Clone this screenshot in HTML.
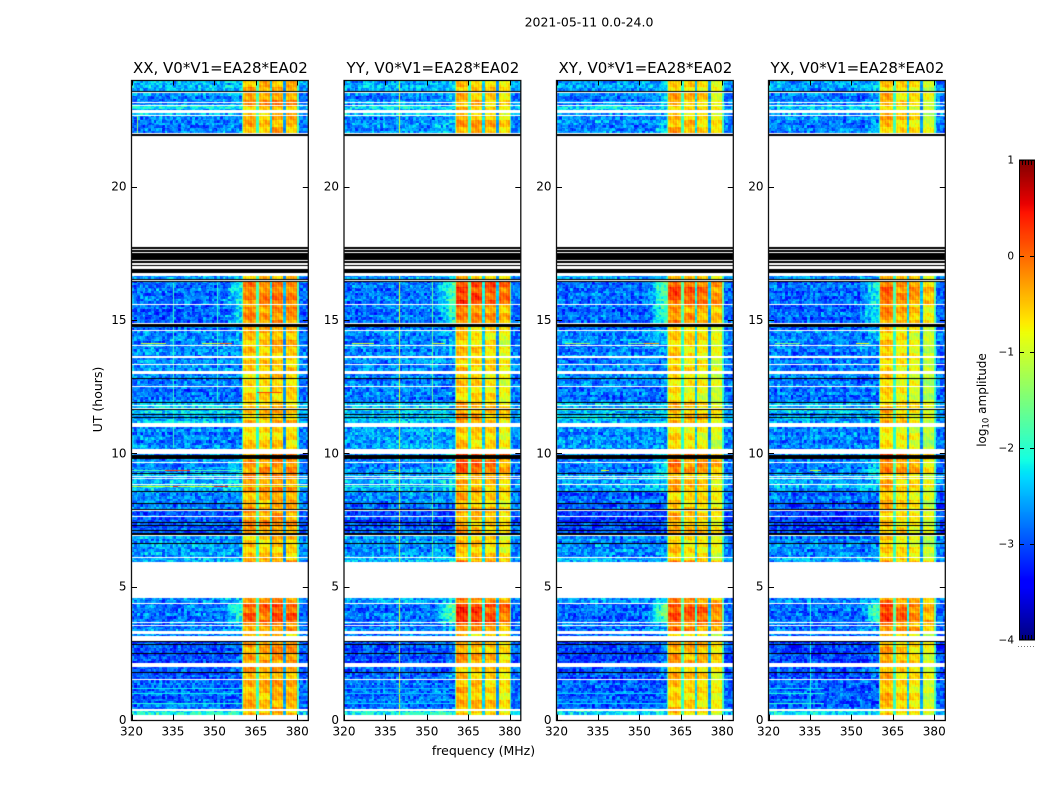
<!DOCTYPE html>
<html lang="en">
<head>
<meta charset="utf-8">
<title>2021-05-11 waterfall</title>
<style>
  html, body { margin: 0; padding: 0; background: #fff; }
  #figure { position: relative; width: 1050px; height: 800px; overflow: hidden; background: #fff; }
  canvas { position: absolute; display: block; }
  svg { position: absolute; left: 0; top: 0; }
  text { font-family: "DejaVu Sans", "Liberation Sans", sans-serif; fill: #000; }
</style>
</head>
<body>
<div id="figure">
  <canvas id="heat0"></canvas>
  <canvas id="heat1"></canvas>
  <canvas id="heat2"></canvas>
  <canvas id="heat3"></canvas>
  <canvas id="cbar"></canvas>
  <svg id="overlay" width="1050" height="800" viewBox="0 0 1050 800">
    <text x="589" y="26.5" font-size="12.5" text-anchor="middle">2021-05-11 0.0-24.0</text>
    <text x="483.5" y="755" font-size="12.5" text-anchor="middle">frequency (MHz)</text>
    <text transform="translate(102,399.5) rotate(-90)" font-size="12.5" text-anchor="middle">UT (hours)</text>
    <text transform="translate(986,400) rotate(-90)" font-size="12" text-anchor="middle">log<tspan font-size="8.5" dy="2.5">10</tspan><tspan dy="-2.5"> amplitude</tspan></text>
  </svg>
</div>
<script>
// ---- panels and axes ----
const panelTitles = ["XX, V0*V1=EA28*EA02", "YY, V0*V1=EA28*EA02", "XY, V0*V1=EA28*EA02", "YX, V0*V1=EA28*EA02"];
const panelKeys = ["xx", "yy", "xy", "yx"];
const xTicks = [320, 335, 350, 365, 380];
const yTicks = [0, 5, 10, 15, 20];
const colorTicks = [1, 0, -1, -2, -3, -4];

// ---- frequency bands (MHz) ----
const bandEdges = [320, 360, 360.5, 365, 366, 370, 371, 375, 376, 380, 380.5, 384];
const bandTypes = ["low", "edge", "A", "n1", "B", "n2", "C", "n3", "D", "edge", "right"];
const blockXX = [-0.58, -0.62, -0.55, -0.6];
const blockYY = [-0.5, -0.62, -0.7, -0.85];
const blockXY = [-0.55, -0.67, -0.75, -0.92];
const blockYX = [-0.5, -0.7, -0.82, -1.05];
const notchLevels = [-1.95, -2.35, -2.65];
const edgeLevel = -1.95;
const rightLevel = -2.85;
const lowLevel = -2.82;

// ---- observing epochs: start hour and per-polarisation offsets ----
const epochStart = [0,0.19,0.40,1.53,2.15,3.16,3.34,3.66,4.38,5.93,6.13,6.95,7.86,8.14,8.59,9.25,9.93,10.16,11.15,11.48,11.91,12.54,13.09,13.65,14.06,14.61,14.88,15.6,16.48,21.98,22.69,22.88,23.05,23.58];
const lowXX = [0,.75,-.05,-.15,-.2,.1,.05,0,.2,.3,.2,-.1,0,.1,.35,.1,.1,.1,.35,.5,0,.1,.1,.1,.1,0,-.05,0,.15,.05,.35,.6,.1,.35];
const lowYY = [0,.7,0,-.1,-.15,.1,.05,0,.2,.3,.15,-.15,-.05,.1,.3,.1,.1,.2,.35,.45,.05,.1,.1,.1,.1,0,0,0,.15,.15,.35,.55,.1,.3];
const lowXY = [0,.6,-.1,-.2,-.25,.05,0,-.05,.1,.2,.1,-.25,-.15,-.05,.25,.05,.05,.15,.3,.4,0,.1,.05,.1,.1,-.05,-.05,0,.1,.1,.3,.5,.05,.25];
const lowYX = [0,.6,-.1,-.2,-.25,.05,0,-.05,.1,.2,.1,-.25,-.15,0,.25,.05,.05,.1,.25,.4,0,.05,.05,.05,.1,-.05,-.05,-.05,.1,.05,.3,.5,.05,.25];
const highXX = [0,.1,.15,.2,.3,0,.3,.6,.35,.1,0,.3,.2,.2,.3,.35,.3,-.05,.1,.1,-.05,-.05,0,.05,.1,.15,.35,.4,.05,.15,.1,0,.3,.15];
const highYY = [0,.05,.1,.1,.2,0,.4,.8,.4,.1,0,.15,.1,.1,.2,.55,.8,0,.2,.25,-.05,0,0,0,-.05,.1,.35,.75,.1,.2,.05,0,.15,.05];
const highXY = [0,.05,.05,.1,.25,0,.4,.7,.35,.05,0,.15,.1,.05,.15,.4,.55,-.1,.15,.15,-.15,-.1,-.05,0,0,.1,.35,.65,.1,.15,.05,0,.1,.05];
const highYX = [0,.05,.05,.1,.15,0,.4,.65,.35,.05,-.05,.05,.05,.05,.1,.35,.45,-.15,.1,.1,-.15,-.1,-.05,-.05,-.05,.1,.25,.5,.05,.05,0,-.05,.05,0];
const glowLevel = [0,0,0,.2,.2,0,.2,.9,.3,0,0,0,0,0,.2,.3,.3,0,0,0,0,0,0,.1,.2,0,.7,.8,.2,.2,0,0,.2,.2];
const polGlow = [.7, 1, 1.1, .8];

// ---- estimated speckle and ripple residuals (log10 amplitude) ----
const speckle = [.31,-.42,.08,-.27,.44,-.11,.19,-.38,.02,.36,-.23,-.05,.27,-.46,.13,.39,-.16,-.31,.06,.22,-.41,.34,-.08,.15,-.29,.47,-.19,.03,-.35,.24,.11,-.44,.29,-.02,-.25,.41,.09,-.33,.17,-.13,.37,-.39,.05,.21,-.21,.32,-.07,-.48,.26,.12,-.3,.43,-.15];
const rowRipple = [.6,-.3,.2,-.7,.9,.1,-.5,.4,-.9,.3,.7,-.2,-.6,.5,0,-.8,.8,-.4,.2,.6,-.1,-1,.4];
const channelRipple = [.05,-.03,.01,.04,-.05,.02,-.01,.06,-.03,.01,.04,-.06,.03,-.02,.05,-.04,.01,.03,-.02];
const blockBands = [.15,-.09,.18,.03,-.18,.12,-.06,.21,-.15,.06,-.21,.09,.18,-.12,.0,.17,-.18,.07,-.05,.2,-.13,.11,-.2,.04,.14,-.07,.18,-.17,.06];
const blockComb = [.11,-.08,.14,-.11,.07,-.14,.1,-.06,.13,-.13,.04,-.1,.14];
const fringe = [.12,.06,-.04,-.12,-.08,.02,.1];

// ---- flagged time ranges (hours): w = blank, k = zeroed ----
const flagStart = [0,.35,1.49,1.76,1.98,2.46,2.84,2.91,2.96,3.21,3.52,3.63,4.34,4.58,6.07,6.10,6.60,6.90,6.95,7.09,7.30,7.37,7.61,7.82,7.90,8.10,8.55,8.80,9.06,9.12,9.23,9.64,9.78,9.99,10.97,11.33,11.45,11.64,11.69,11.78,11.88,12.50,12.79,12.98,13.31,13.56,14.03,14.59,14.75,14.84,15.56,16.43,16.48,16.52,16.66,16.78,16.93,17.03,17.08,17.14,17.21,17.25,17.51,17.55,17.63,17.66,17.72,21.91,21.98,22.65,22.75,23.03,23.16,23.51,23.55];
const flagEnd = [.19,.40,1.53,1.80,2.15,2.50,2.86,2.95,3.16,3.34,3.55,3.66,4.38,5.93,6.10,6.13,6.63,6.95,7.0,7.13,7.33,7.41,7.65,7.86,7.93,8.14,8.59,8.84,9.09,9.15,9.25,9.68,9.93,10.16,11.15,11.35,11.48,11.69,11.71,11.81,11.91,12.54,12.83,13.09,13.35,13.65,14.06,14.61,14.84,14.88,15.60,16.48,16.52,16.55,16.78,16.93,17.03,17.08,17.14,17.21,17.25,17.51,17.55,17.63,17.66,17.72,21.91,21.98,22.01,22.69,22.88,23.05,23.19,23.55,23.58];
const flagKind = ["w","w","w","k","w","k","k","k","w","w","w","w","w","w","k","w","k","w","k","k","k","k","w","w","k","k","k","w","w","w","k","w","k","w","w","k","k","k","w","w","k","w","k","w","w","w","w","w","k","w","w","k","w","k","w","k","w","k","w","k","w","k","w","k","w","k","w","k","w","w","w","w","w","w","k"];

// ---- narrow-band and transient interference ----
const rfiPanel = [0,0,0,0,0,0,0,0,0,0,0,0,1,1,1,1,1,1,1,2,2,2,2,2,2,3,3,3,3,3,3];
const rfiHour = [14.14,14.14,14.14,9.38,9.38,8.76,8.76,8.76,12.29,.65,1.02,1.21,14.14,14.14,.65,1.02,1.21,8.76,9.38,14.14,14.14,14.14,9.38,.65,1.02,14.14,14.14,9.38,.65,1.02,1.21];
const rfiFrom = [323.5,345.5,352,320,332,320,335,350,365.5,320,320,320,323,352,320,320,320,320,336,323,346,351.8,336,320,320,322.5,351.5,335,320,320,320];
const rfiTo = [332.5,352,356.5,360,341,384,337,355,374.5,360,360,360,331,356.5,360,360,360,360,339,332,351.8,357,339,360,360,331.5,356.5,339,340,340,340];
const rfiValue = [-1,-1,0,-1.8,.2,-.9,.3,.3,.2,-2.05,-2.2,-2.2,-1,-1,-2.3,-2.4,-2.4,-1.9,-.9,-1.3,-1.6,-.3,-.8,-2.3,-2.35,-1.5,-.8,-1,-2,-2.1,-2.2];
const spikePanel = [0,0,0,1,1,3];
const spikeFreq = [322,335,351,340,352,335];
const spikeFrom = [22.01,10.2,12,0,5,0];
const spikeTo = [22.65,16.4,16.4,24,17,5];
const spikeValue = [-1.4,-1.95,-2,-.95,-1.7,-2.1];

// ---- geometry ----
const axisLefts = [131.5, 344, 556.5, 768.5];
const axisWidth = 176.8;
const axisTop = 80;
const axisHeight = 640;
const figure = document.getElementById('figure');
const overlay = document.getElementById('overlay');
const SVGNS = 'http://www.w3.org/2000/svg';

function xScale(p, f) { return axisLefts[p] + (f - 320) * axisWidth / 64; }
function yScale(h) { return axisTop + axisHeight - h * axisHeight / 24; }

function jetChannel(p, xs, ys) {
  if (p <= xs[0]) return ys[0];
  for (let i = 1; i < xs.length; i++) {
    if (p <= xs[i]) return ys[i - 1] + (ys[i] - ys[i - 1]) * (p - xs[i - 1]) / (xs[i] - xs[i - 1]);
  }
  return ys[ys.length - 1];
}
function jet(v) {
  const p = Math.max(0, Math.min(1, (v + 4) / 5));
  const r = jetChannel(p, [0, .35, .66, .89, 1], [0, 0, 1, 1, .5]);
  const g = jetChannel(p, [0, .125, .375, .64, .91, 1], [0, 0, 1, 1, 0, 0]);
  const b = jetChannel(p, [0, .11, .34, .65, 1], [.5, 1, 1, 0, 0]);
  return 'rgb(' + Math.round(r * 255) + ',' + Math.round(g * 255) + ',' + Math.round(b * 255) + ')';
}

function epochIndex(h) {
  let k = 0;
  for (let i = 0; i < epochStart.length; i++) { if (h >= epochStart[i]) k = i; }
  return k;
}
function bandIndex(f) {
  for (let i = 0; i < bandTypes.length; i++) { if (f < bandEdges[i + 1]) return i; }
  return bandTypes.length - 1;
}

const lowByPanel = [lowXX, lowYY, lowXY, lowYX];
const highByPanel = [highXX, highYY, highXY, highYX];
const blockByPanel = [blockXX, blockYY, blockXY, blockYX];
const ROW_HOURS = 0.05;
const CHANNEL_MHZ = 0.5;

function cellValue(p, row, ch) {
  const h = row * ROW_HOURS + ROW_HOURS / 2;
  const f = 320 + ch * CHANNEL_MHZ + CHANNEL_MHZ / 2;
  const e = epochIndex(h);
  const type = bandTypes[bandIndex(f)];
  const c2 = Math.floor(ch / 2);
  const r2 = Math.floor(row / 2);
  const n = speckle[(c2 * c2 * 7 + r2 * r2 * 11 + c2 * r2 * 3 + c2 * 5 + r2 * 2 + p * 11) % speckle.length];
  const n2 = speckle[(ch * ch * 5 + row * row * 3 + ch * row + ch + p * 5) % speckle.length];
  const rip = rowRipple[(r2 + p * 3) % rowRipple.length];
  if (type === 'low') {
    let v = lowLevel + lowByPanel[p][e] + n * 0.8 + n2 * 0.45 + rip * 0.12 + channelRipple[c2 % channelRipple.length];
    const t = (f - 353) / 7;
    if (t > 0) v += glowLevel[e] * polGlow[p] * t * 1.4;
    return v;
  }
  if (type === 'A' || type === 'B' || type === 'C' || type === 'D') {
    const b = 'ABCD'.indexOf(type);
    const band = blockBands[(Math.floor(row / 5) + b * 7 + p * 3) % blockBands.length];
    const comb = blockComb[(ch + b * 2) % blockComb.length];
    const dia = fringe[(ch + row) % fringe.length];
    return blockByPanel[p][b] + highByPanel[p][e] + band + comb + dia + rip * 0.08 + n2 * 0.1;
  }
  if (type === 'n1') return notchLevels[0] + n * 0.3 + highByPanel[p][e] * 0.4;
  if (type === 'n2') return notchLevels[1] + n * 0.4 + highByPanel[p][e] * 0.4;
  if (type === 'n3') return notchLevels[2] + n * 0.4 + highByPanel[p][e] * 0.4;
  if (type === 'edge') return edgeLevel + n * 0.3 + highByPanel[p][e] * 0.5;
  return rightLevel + lowByPanel[p][e] * 0.6 + n * 0.8 + n2 * 0.3;
}

// ---- draw each waterfall panel ----
for (let p = 0; p < 4; p++) {
  const cv = document.getElementById('heat' + p);
  const ox = Math.floor(axisLefts[p]);
  cv.width = Math.round(axisLefts[p] + axisWidth) - ox;
  cv.height = axisHeight;
  cv.style.left = ox + 'px';
  cv.style.top = axisTop + 'px';
  const ctx = cv.getContext('2d');
  const nRows = Math.round(24 / ROW_HOURS);
  const nCh = Math.round(64 / CHANNEL_MHZ);
  for (let r = 0; r < nRows; r++) {
    const y0 = Math.round(yScale((r + 1) * ROW_HOURS)) - axisTop;
    const y1 = Math.round(yScale(r * ROW_HOURS)) - axisTop;
    for (let c = 0; c < nCh; c++) {
      const x0 = Math.round(xScale(p, 320 + c * CHANNEL_MHZ)) - ox;
      const x1 = Math.round(xScale(p, 320 + (c + 1) * CHANNEL_MHZ)) - ox;
      ctx.fillStyle = jet(cellValue(p, r, c));
      ctx.fillRect(x0, y0, x1 - x0, y1 - y0);
    }
  }
  for (let i = 0; i < spikePanel.length; i++) {
    if (spikePanel[i] !== p) continue;
    const sy0 = Math.round(yScale(spikeTo[i])) - axisTop;
    const sy1 = Math.round(yScale(spikeFrom[i])) - axisTop;
    ctx.fillStyle = jet(spikeValue[i]);
    ctx.fillRect(Math.round(xScale(p, spikeFreq[i])) - ox, sy0, 1, sy1 - sy0);
  }
  for (let i = 0; i < rfiPanel.length; i++) {
    if (rfiPanel[i] !== p) continue;
    const lx0 = Math.round(xScale(p, rfiFrom[i])) - ox;
    const lx1 = Math.round(xScale(p, rfiTo[i])) - ox;
    ctx.fillStyle = jet(rfiValue[i]);
    ctx.fillRect(lx0, Math.round(yScale(rfiHour[i])) - axisTop, lx1 - lx0, 1);
  }
  for (let i = 0; i < flagStart.length; i++) {
    const fy0 = Math.round(yScale(flagEnd[i])) - axisTop;
    const fy1 = Math.round(yScale(flagStart[i])) - axisTop;
    ctx.fillStyle = flagKind[i] === 'k' ? '#000' : '#fff';
    ctx.fillRect(0, fy0, cv.width, Math.max(1, fy1 - fy0));
  }
}

// ---- colorbar ----
const cbLeft = 1019, cbTop = 160, cbWidth = 16, cbHeight = 480;
function cbY(v) { return cbTop + (1 - v) * cbHeight / 5; }
const cb = document.getElementById('cbar');
cb.width = cbWidth;
cb.height = cbHeight;
cb.style.left = cbLeft + 'px';
cb.style.top = cbTop + 'px';
const cbCtx = cb.getContext('2d');
for (let y = 0; y < cbHeight; y++) {
  cbCtx.fillStyle = jet(1 - (y + 0.5) * 5 / cbHeight);
  cbCtx.fillRect(0, y, cbWidth, 1);
}

// ---- SVG furniture ----
function svgEl(tag, attrs) {
  const el = document.createElementNS(SVGNS, tag);
  for (const k in attrs) el.setAttribute(k, attrs[k]);
  overlay.appendChild(el);
  return el;
}

for (let p = 0; p < 4; p++) {
  const key = panelKeys[p];
  const left = axisLefts[p];
  const right = left + axisWidth;
  const top = axisTop;
  const bottom = axisTop + axisHeight;

  const frame = svgEl('rect', { x: left, y: top + 0.5, width: axisWidth, height: axisHeight, fill: 'none', stroke: '#111', 'stroke-width': 1.3 });
  
  

  const title = svgEl('text', { x: left + axisWidth / 2 + 0.5, y: 73, 'font-size': 15, 'text-anchor': 'middle' });
  title.textContent = panelTitles[p];
  
  

  xTicks.forEach(function (f) {
    const x = Math.round(xScale(p, f)) + 0.5;
    const b = svgEl('line', { x1: x, x2: x, y1: bottom, y2: bottom - 5.5, stroke: '#000', 'stroke-width': 1 });
    
    
    const t = svgEl('line', { x1: x, x2: x, y1: top, y2: top + 5.5, stroke: '#000', 'stroke-width': 1 });
    
    
    const lab = svgEl('text', { x: xScale(p, f), y: 735.5, 'font-size': 12, 'text-anchor': 'middle' });
    lab.textContent = String(f);
    
    
  });

  yTicks.forEach(function (h) {
    const y = Math.round(yScale(h)) + 0.5;
    const l = svgEl('line', { x1: left, x2: left + 5.5, y1: y, y2: y, stroke: '#000', 'stroke-width': 1 });
    
    
    const r = svgEl('line', { x1: right, x2: right - 5.5, y1: y, y2: y, stroke: '#000', 'stroke-width': 1 });
    
    
    const lab = svgEl('text', { x: left - 5, y: yScale(h) + 4, 'font-size': 12, 'text-anchor': 'end' });
    lab.textContent = String(h);
    
    
  });
}

const cbFrame = svgEl('rect', { x: cbLeft + 0.5, y: cbTop, width: cbWidth - 1, height: cbHeight, fill: 'none', stroke: '#000', 'stroke-width': 1 });



colorTicks.forEach(function (v) {
  const y = Math.min(Math.round(cbY(v)) + 0.5, cbTop + cbHeight - 0.5);
  const tl = svgEl('line', { x1: cbLeft, x2: cbLeft + 5, y1: y, y2: y, stroke: '#000', 'stroke-width': 1 });
  
  
  const tr = svgEl('line', { x1: cbLeft + cbWidth, x2: cbLeft + cbWidth - 5, y1: y, y2: y, stroke: '#000', 'stroke-width': 1 });
  
  
  const lab = svgEl('text', { x: cbLeft - 5, y: cbY(v) + 3.5, 'font-size': 10.5, 'text-anchor': 'end' });
  lab.textContent = String(v).replace('-', '\u2212');
  
  
});

[3, 6, 9, 12].forEach(function (dx) {
  const a = svgEl('line', { x1: cbLeft + dx + 0.5, x2: cbLeft + dx + 0.5, y1: cbTop, y2: cbTop + 5, stroke: '#000', 'stroke-width': 1 });
  
  
  const b = svgEl('line', { x1: cbLeft + dx + 0.5, x2: cbLeft + dx + 0.5, y1: cbTop + cbHeight - 5, y2: cbTop + cbHeight, stroke: '#000', 'stroke-width': 1 });
  
  
});

[0, 3, 6, 9, 12, 15].forEach(function (dx) {
  const d = svgEl('rect', { x: 1018 + dx, y: 646, width: 1, height: 1, fill: '#777' });
  
  
});
</script>
</body>
</html>
